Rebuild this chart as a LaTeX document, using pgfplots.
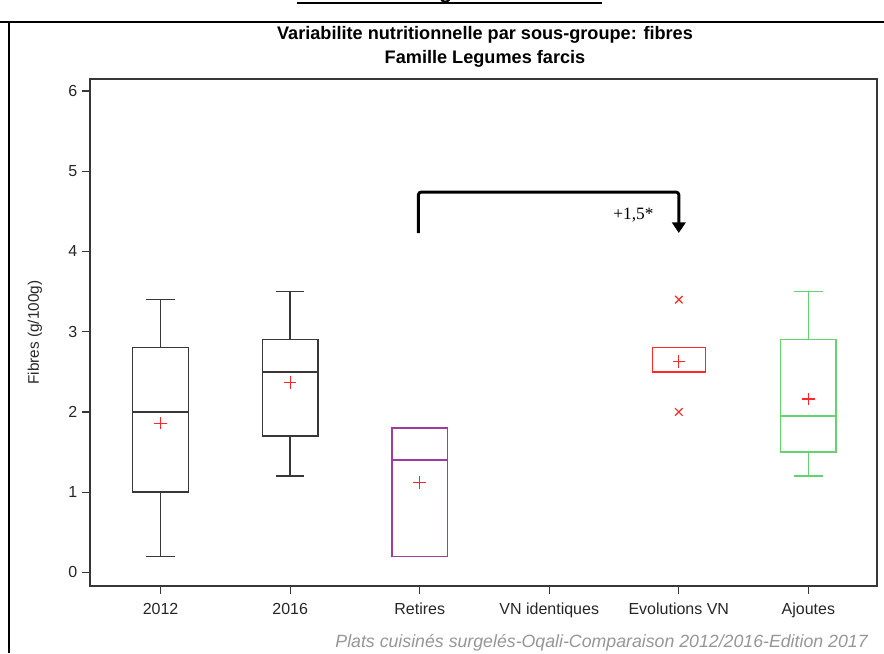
\documentclass[border=0pt]{standalone}
\usepackage{fontspec}
\setmainfont{Liberation Sans}
\newfontfamily\annotfont{Liberation Serif}
\usepackage{pgfplots}
\pgfplotsset{compat=1.18}
\usepgfplotslibrary{statistics}
\usetikzlibrary{arrows.meta}

\definecolor{sasred}{RGB}{255,40,40}
\definecolor{saspurple}{RGB}{160,60,160}
\definecolor{sasgreen}{RGB}{100,210,110}
\definecolor{framegray}{RGB}{55,55,55}
\definecolor{footgray}{RGB}{150,150,150}

\begin{document}
\begin{tikzpicture}
\useasboundingbox (0,0) rectangle (663pt,-489.75pt);
% page frame and cut-off heading
\draw[line width=1.5pt] (0,-16.5pt) -- (663pt,-16.5pt);
\draw[line width=1.2pt] (6.75pt,-16.5pt) -- (6.75pt,-489.75pt);
\node[anchor=base, font=\bfseries\fontsize{16}{18}\selectfont, inner sep=0pt] at (337.5pt,1.2pt) {Fibres : Legumes farcis};
\draw[line width=2pt] (222.75pt,-2.25pt) -- (451.5pt,-2.25pt);

% titles
\node[anchor=base, font=\bfseries\fontsize{13.6}{16}\selectfont, inner sep=0pt] at (363.75pt,-29.5pt) {Variabilite nutritionnelle par sous-groupe: fibres};
\node[anchor=base, font=\bfseries\fontsize{13.6}{16}\selectfont, inner sep=0pt] at (363.75pt,-47.5pt) {Famille Legumes farcis};

\begin{axis}[
    at={(67.5pt,-59.25pt)}, anchor=north west,
    scale only axis,
    width=590.25pt, height=380.25pt,
    xmin=-0.545, xmax=5.53,
    ymin=-0.17, ymax=6.15,
    xtick={0,1,2,3,4,5},
    xticklabels={2012,2016,Retires,VN identiques,Evolutions VN,Ajoutes},
    ytick={0,1,2,3,4,5,6},
    xtick pos=left, ytick pos=left,
    tick align=outside,
    major tick length=6pt,
    axis line style={framegray, line width=0.9pt},
    every tick/.style={framegray, line width=0.9pt},
    tick label style={font=\fontsize{12}{14}\selectfont, text=black!85},
    xticklabel style={yshift=-3.5pt},
    /pgf/number format/assume math mode=true,
    ylabel={Fibres (g/100g)},
    ylabel style={at={(axis description cs:-0.07,0.5)}, anchor=center,
        font=\fontsize{11.5}{14}\selectfont, text=black!85},
    boxplot/draw direction=y,
    boxplot/every box/.style={line width=1.1pt},
    boxplot/every whisker/.style={line width=1.1pt},
    boxplot/every median/.style={line width=1.1pt},
    clip=false,
]

% 2012
\addplot[framegray, boxplot prepared={draw position=0,
    lower whisker=0.2, lower quartile=1.0, median=2.0,
    upper quartile=2.8, upper whisker=3.4,
    box extend=0.43, whisker extend=0.22}] coordinates {};
% 2016
\addplot[framegray, boxplot prepared={draw position=1,
    lower whisker=1.2, lower quartile=1.7, median=2.5,
    upper quartile=2.9, upper whisker=3.5,
    box extend=0.43, whisker extend=0.22}] coordinates {};
% Retires
\addplot[saspurple, boxplot prepared={draw position=2,
    lower whisker=0.2, lower quartile=0.2, median=1.4,
    upper quartile=1.8, upper whisker=1.8,
    box extend=0.43, whisker extend=0.22}] coordinates {};
% Evolutions VN
\addplot[sasred, boxplot prepared={draw position=4,
    lower whisker=2.5, lower quartile=2.5, median=2.5,
    upper quartile=2.8, upper whisker=2.8,
    box extend=0.41, whisker extend=0.22}] coordinates {};
% Ajoutes
\addplot[sasgreen, boxplot prepared={draw position=5,
    lower whisker=1.2, lower quartile=1.5, median=1.95,
    upper quartile=2.9, upper whisker=3.5,
    box extend=0.43, whisker extend=0.22}] coordinates {};

% means
\addplot[only marks, mark=+, sasred, mark size=4.7pt, mark options={line width=0.9pt}]
    coordinates {(0,1.86) (1,2.37) (2,1.12) (4,2.63) (5,2.16)};
% outliers
\addplot[only marks, mark=x, sasred, mark size=4pt, mark options={line width=0.9pt}]
    coordinates {(4,3.4) (4,2.0)};

% significance bracket
\draw[line width=2.2pt, rounded corners=2pt, -{Triangle[width=10pt,length=8pt]}]
    (axis cs:1.99,4.23) -- (axis cs:1.99,4.74) -- (axis cs:4,4.74) -- (axis cs:4,4.23);
\node[font=\annotfont\fontsize{13}{15}\selectfont] at (axis cs:3.65,4.45) {+1,5*};
\end{axis}

% footer
\node[anchor=base east, font=\itshape\fontsize{13.3}{16}\selectfont, text=footgray, inner sep=0pt]
    at (651pt,-485.25pt) {Plats cuisinés surgelés-Oqali-Comparaison 2012/2016-Edition 2017};
\end{tikzpicture}
\end{document}
